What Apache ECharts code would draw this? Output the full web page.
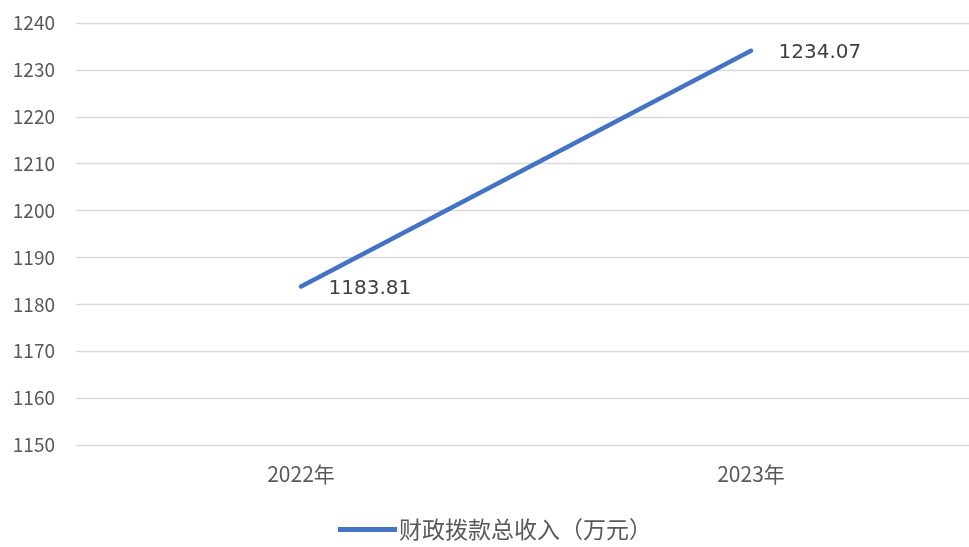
<!DOCTYPE html>
<html><head><meta charset="utf-8">
<script src="https://cdn.jsdelivr.net/npm/echarts@6/dist/echarts.min.js"></script>
<style>html,body{margin:0;padding:0;background:#fff}#c{width:969px;height:547px}</style>
</head><body><div id="c"></div>
<script>
const categories = ['2022年', '2023年'];
const seriesName = '财政拨款总收入（万元）';
const values = [1183.81, 1234.07];
const yMin = 1150, yMax = 1240, yStep = 10;

const chart = echarts.init(document.getElementById('c'));
const font = '"Noto Sans CJK SC", "Noto Sans", sans-serif';
chart.setOption({
  animation: false,
  textStyle: { fontFamily: font },
  grid: { left: 76, top: 23, width: 900, bottom: 102, containLabel: false, outerBoundsMode: 'none' },
  legend: {
    bottom: 1, left: 333,
    itemWidth: 59, itemHeight: 5, itemGap: 4,
    textStyle: { fontSize: 23, color: '#595959', fontFamily: font, padding: [0, 0, 0, -3] },
    data: [{ name: seriesName, icon: 'path://M0,0 L59,0 L59,5 L0,5 Z' }]
  },
  xAxis: {
    type: 'category', data: categories, boundaryGap: true,
    axisLine: { show: false }, axisTick: { show: false },
    axisLabel: { fontSize: 21, color: '#595959', margin: 19 }
  },
  yAxis: {
    type: 'value', min: yMin, max: yMax, interval: yStep,
    axisLine: { show: false }, axisTick: { show: false },
    axisLabel: { fontSize: 19, color: '#595959', margin: 21, formatter: v => String(v) },
    splitLine: { lineStyle: { color: '#d9d9d9', width: 1.3 } }
  },
  series: [{
    name: seriesName, type: 'line', data: values,
    symbol: 'circle', symbolSize: 1, showSymbol: true,
    lineStyle: { color: '#4472C4', width: 4.5, cap: 'round' },
    itemStyle: { color: '#4472C4' },
    label: {
      show: true, position: 'right', distance: 27,
      fontSize: 20, color: '#404040', fontFamily: '"DejaVu Sans", sans-serif',
      formatter: p => p.value.toFixed(2),
      offset: [0, 2]
    }
  }]
});
</script></body></html>
